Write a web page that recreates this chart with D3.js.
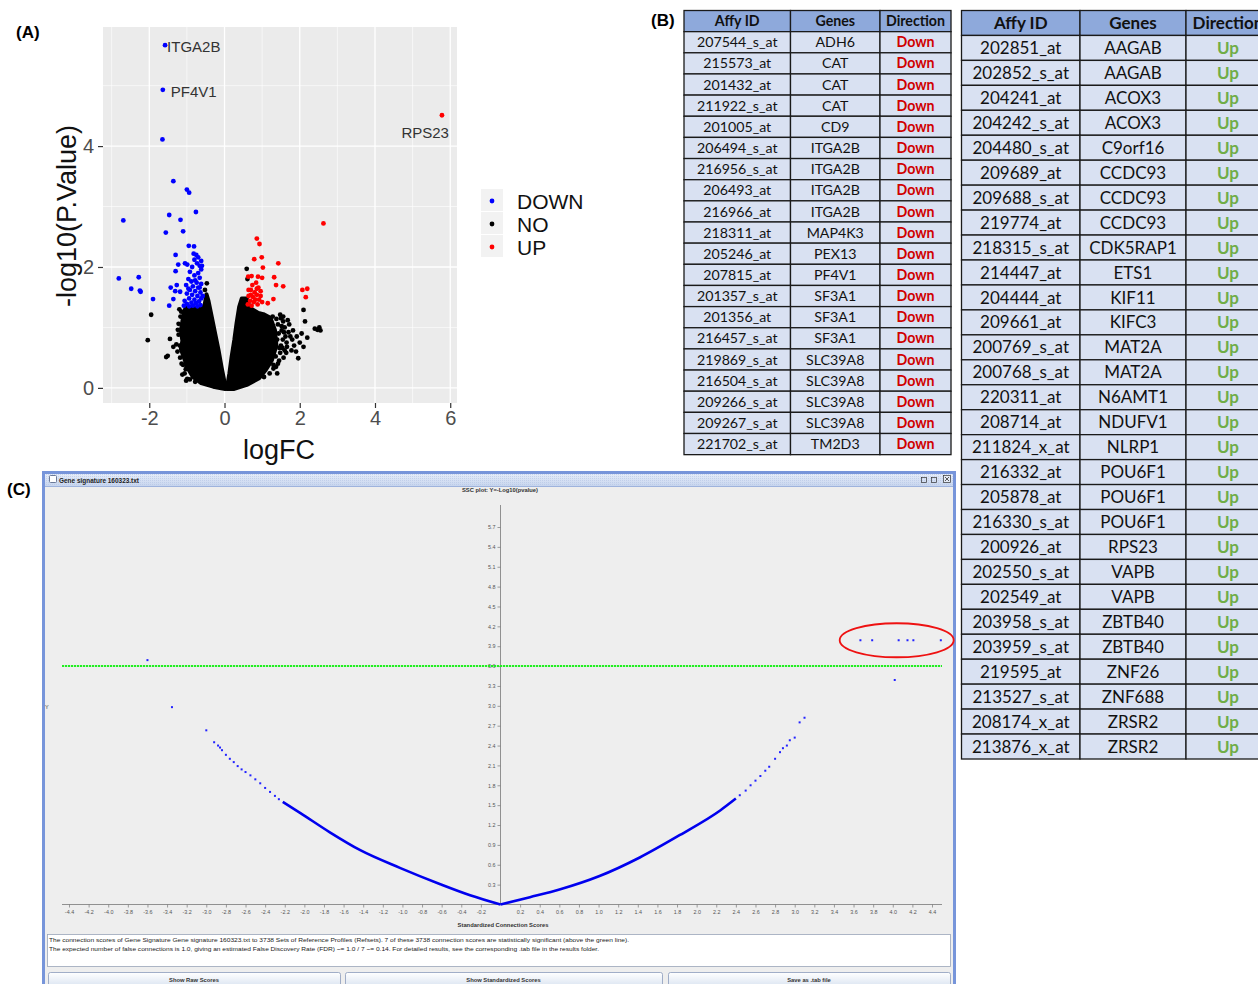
<!DOCTYPE html>
<html><head><meta charset="utf-8">
<script src="https://cdn.jsdelivr.net/npm/d3@7"></script>
<style>body{margin:0;background:#fff;overflow:hidden}svg{display:block}</style>
</head><body>
<svg id="c" width="1258" height="984"></svg>
<script>
// ================= DATA =================
// Panel A – volcano plot  [logFC, -log10(P.Value)]
const volcanoDown = [[-1.58,5.67],[-1.64,4.93],[-1.65,4.11],[-1.36,3.42],[-1.0,3.28],[-0.94,3.23],[-0.76,2.91],[-1.47,2.86],[-1.17,2.78],[-2.69,2.77],[-1.56,2.57],[-1.10,2.59],[-0.95,2.35],[-0.81,2.34],[-1.30,2.20],[-1.23,2.04],[-1.30,1.93],[-1.05,2.06],[-0.99,2.04],[-2.81,1.81],[-2.28,1.83],[-2.48,1.64],[-2.25,1.61],[-2.23,1.59],[-1.90,1.47],[-1.47,1.36],[-1.36,1.47],[-1.43,1.66],[-1.27,1.70],[-1.31,1.60],[-1.18,1.59],
 [-0.75,2.20],[-0.70,2.16],[-0.80,2.12],[-0.73,2.06],[-0.66,2.02],[-0.86,2.00],[-0.62,1.96],[-0.92,1.92],[-0.70,1.90],[-0.80,1.86],[-0.66,1.82],[-0.96,1.80],[-0.88,1.76],[-0.74,1.74],[-0.62,1.72],[-1.02,1.70],[-0.84,1.68],[-0.70,1.66],[-0.92,1.62],[-0.78,1.60],[-0.64,1.58],[-1.00,1.56],[-0.86,1.54],[-0.72,1.52],[-0.62,1.48],[-0.94,1.48],[-0.80,1.46],[-1.06,1.44],[-0.68,1.43],[-0.88,1.41],[-0.76,1.40],[-1.00,1.39],[-0.64,1.37],[-0.84,1.36],[-0.94,1.35],[-0.72,1.35],[-1.08,1.36],[-0.60,2.02],[-0.62,2.10],[-0.82,2.22],[-0.96,1.64],[-0.66,1.66],[-0.78,1.78],[-0.58,1.52]];
const volcanoUp = [[5.78,4.51],[2.63,2.72],[0.86,2.47],[0.93,2.38],[0.99,2.16],[0.79,2.13],[1.02,1.99],[1.43,2.06],[0.63,1.84],[0.72,1.85],[0.89,1.84],[1.00,1.82],[1.32,1.83],[1.37,1.70],[1.56,1.68],[2.07,1.62],[2.20,1.64],[2.16,1.50],[1.30,1.47],[1.15,1.40],
 [0.74,1.70],[0.84,1.74],[0.90,1.66],[0.70,1.62],[0.80,1.58],[0.96,1.60],[0.64,1.52],[0.76,1.50],[0.86,1.54],[0.92,1.46],[0.68,1.44],[0.78,1.42],[0.88,1.38],[0.62,1.38],[0.72,1.36],[1.00,1.42],[0.82,1.46],[0.96,1.52],[0.70,1.54],[0.86,1.64],[0.64,1.62]];
// dense "NO" cloud outlines (left and right lobes)
const volcanoNoLeftLobe = [[0.02,-0.02],[-0.30,0.02],[-0.62,0.08],[-0.84,0.18],[-0.98,0.33],[-1.08,0.50],[-1.16,0.64],[-1.12,0.78],[-1.16,0.95],[-1.12,1.10],[-1.08,1.25],[-1.03,1.33],[-0.65,1.32],[-0.53,1.36],[-0.48,1.55],[-0.43,1.45],[-0.34,1.18],[-0.25,0.90],[-0.16,0.63],[-0.08,0.35],[-0.01,0.13]];
const volcanoNoRightLobe = [[0.06,-0.02],[0.13,0.24],[0.19,0.52],[0.26,0.79],[0.32,1.07],[0.39,1.34],[0.46,1.48],[0.59,1.48],[0.68,1.32],[0.90,1.24],[1.03,1.22],[1.22,1.16],[1.34,0.96],[1.38,0.70],[1.26,0.46],[1.10,0.30],[0.92,0.16],[0.59,0.05],[0.24,-0.02]];
const volcanoNoScatter = [[-1.95,1.21],[-2.04,0.79],[-1.45,0.81],[-1.55,0.51],[-1.51,0.53],[-1.36,0.68],[-1.18,0.50],[-1.03,0.31],[-0.99,0.15],[-1.25,0.60],[-1.28,0.72],[-1.14,0.40],[-0.47,1.73],[-0.52,1.62],[0.59,1.97],[0.61,1.80],
 [-1.20,1.30],[-1.17,1.18],[-1.22,1.06],[-1.22,0.88],[-1.19,0.70],[-1.10,0.38],[-1.06,0.24],[-0.92,0.14],[-0.78,0.10],[-1.02,0.12],[-1.12,0.22],[-0.88,0.30],[-1.24,0.96],[-1.15,1.26],
 [1.50,1.15],[1.56,1.10],[1.60,1.00],[1.52,0.95],[1.62,0.85],[1.55,0.80],[1.65,0.75],[1.50,0.70],[1.60,0.62],[1.48,0.58],[1.57,0.50],[1.45,0.45],[1.66,0.68],[1.70,0.92],[1.75,0.85],[1.80,0.80],[1.85,0.70],[1.90,0.60],[1.78,0.62],[1.82,0.95],[1.72,1.05],[1.68,1.12],[1.48,1.21],[1.56,1.18],
 [1.42,1.05],[1.44,0.90],[1.40,0.80],[1.46,0.66],[1.36,0.52],[1.42,0.40],[1.30,0.32],[1.20,0.24],[1.05,0.18],[1.28,1.18],[1.38,1.14],[1.52,1.02],[1.58,0.92],[1.64,0.58],[1.54,0.66],
 [1.96,0.49],[2.10,0.68],[2.20,0.83],[2.14,1.10],[2.10,1.29],[2.40,0.98],[2.47,0.96],[2.52,1.00],[2.55,0.95],[2.00,0.75],[2.05,0.90],[1.92,0.85],[1.37,0.35],[1.40,0.24],[1.30,0.38]];
const volcanoLabels = [{gene:"ITGA2B",fc:-1.58,p:5.67,anchor:"start"},{gene:"PF4V1",fc:-1.64,p:4.93,anchor:"start"},{gene:"RPS23",fc:5.78,p:4.51,anchor:"end"}];
const volcanoXTicks = [-2,0,2,4,6], volcanoXMinor = [-3,-1,1,3,5];
const volcanoYTicks = [0,2,4], volcanoYMinor = [1,3,5];
const legendCats = ["DOWN","NO","UP"], legendColors = ["#0000FF","#000000","#FF0000"];

// Panel B – tables
const tableHeader = ["Affy ID","Genes","Direction"];
const downAffy = ["207544_s_at","215573_at","201432_at","211922_s_at","201005_at","206494_s_at","216956_s_at","206493_at","216966_at","218311_at","205246_at","207815_at","201357_s_at","201356_at","216457_s_at","219869_s_at","216504_s_at","209266_s_at","209267_s_at","221702_s_at"];
const downGenes = ["ADH6","CAT","CAT","CAT","CD9","ITGA2B","ITGA2B","ITGA2B","ITGA2B","MAP4K3","PEX13","PF4V1","SF3A1","SF3A1","SF3A1","SLC39A8","SLC39A8","SLC39A8","SLC39A8","TM2D3"];
const upAffy = ["202851_at","202852_s_at","204241_at","204242_s_at","204480_s_at","209689_at","209688_s_at","219774_at","218315_s_at","214447_at","204444_at","209661_at","200769_s_at","200768_s_at","220311_at","208714_at","211824_x_at","216332_at","205878_at","216330_s_at","200926_at","202550_s_at","202549_at","203958_s_at","203959_s_at","219595_at","213527_s_at","208174_x_at","213876_x_at"];
const upGenes = ["AAGAB","AAGAB","ACOX3","ACOX3","C9orf16","CCDC93","CCDC93","CCDC93","CDK5RAP1","ETS1","KIF11","KIFC3","MAT2A","MAT2A","N6AMT1","NDUFV1","NLRP1","POU6F1","POU6F1","POU6F1","RPS23","VAPB","VAPB","ZBTB40","ZBTB40","ZNF26","ZNF688","ZRSR2","ZRSR2"];

// Panel C – SSC plot [standardized connection score, -log10(pvalue)]
const sscLeftArm = [[-2.22,1.55],[-2.04,1.38],[-1.74,1.09],[-1.43,0.82],[-1.02,0.55],[-0.62,0.31],[-0.31,0.14],[0,0]];
const sscRightArm = [[0,0],[0.30,0.11],[0.61,0.23],[1.01,0.43],[1.42,0.71],[1.83,1.05],[2.24,1.42],[2.40,1.60]];
const sscScatter = [[-3.0,2.63],[-3.35,2.98],[-2.92,2.45],[-2.88,2.40],[-2.86,2.37],[-2.84,2.33],[-2.80,2.26],[-2.76,2.20],[-2.72,2.15],[-2.68,2.09],[-2.64,2.04],[-2.60,2.00],[-2.55,1.95],[-2.50,1.89],[-2.45,1.83],[-2.40,1.76],[-2.35,1.70],[-2.30,1.64],[-2.26,1.59],
 [2.44,1.65],[2.50,1.72],[2.55,1.80],[2.60,1.87],[2.65,1.94],[2.70,2.02],[2.74,2.08],[2.80,2.20],[2.85,2.30],[2.88,2.36],[2.92,2.40],[2.95,2.48],[3.0,2.52],[3.05,2.75],[3.10,2.82],[4.02,3.39]];
const sscSignificant = [[-3.6,3.69],[3.67,3.99],[3.79,3.99],[4.06,3.99],[4.15,3.99],[4.21,3.99],[4.49,3.99]];
const sscThreshold = 3.6;
const sscCircle = {score:4.04, value:3.99};
const sscXTicks = [-4.4,-4.2,-4.0,-3.8,-3.6,-3.4,-3.2,-3.0,-2.8,-2.6,-2.4,-2.2,-2.0,-1.8,-1.6,-1.4,-1.2,-1.0,-0.8,-0.6,-0.4,-0.2,0.2,0.4,0.6,0.8,1.0,1.2,1.4,1.6,1.8,2.0,2.2,2.4,2.6,2.8,3.0,3.2,3.4,3.6,3.8,4.0,4.2,4.4];
const sscYTicks = [0.3,0.6,0.9,1.2,1.5,1.8,2.1,2.4,2.7,3.0,3.3,3.6,3.9,4.2,4.5,4.8,5.1,5.4,5.7];
const sscMessage = ["The connection scores of Gene Signature Gene signature 160323.txt to 3738 Sets of Reference Profiles (Refsets). 7 of these 3738 connection scores are statistically significant (above the green line).",
 "The expected number of false connections is 1.0, giving an estimated False Discovery Rate (FDR) ~= 1.0 / 7 ~= 0.14. For detailed results, see the corresponding .tab file in the results folder."];
const sscButtons = ["Show Raw Scores","Show Standardized Scores","Save as .tab file"];

// ================= DRAW =================
const svg = d3.select("#c");
const SANS = "'Liberation Sans', Arial, sans-serif";
const CAL = "Lato, 'Open Sans', sans-serif";

// ---------- Panel A ----------
const A = svg.append("g");
svg.append("text").attr("x",16).attr("y",38).attr("font-family",SANS).attr("font-weight","bold").attr("font-size",17).text("(A)");
const ax = d3.scaleLinear().domain([-3.23,6.18]).range([103,457]);
const ay = d3.scaleLinear().domain([-0.25,5.97]).range([403,27]);
A.append("rect").attr("x",ax(-3.23)).attr("y",ay(5.97)).attr("width",ax(6.18)-ax(-3.23)).attr("height",ay(-0.25)-ay(5.97)).attr("fill","#EBEBEB");
A.selectAll(".vmx").data(volcanoXMinor).join("line").attr("x1",d=>ax(d)).attr("x2",d=>ax(d)).attr("y1",27).attr("y2",403).attr("stroke","#fff").attr("stroke-width",0.6);
A.selectAll(".vmy").data(volcanoYMinor).join("line").attr("y1",d=>ay(d)).attr("y2",d=>ay(d)).attr("x1",103).attr("x2",457).attr("stroke","#fff").attr("stroke-width",0.6);
A.selectAll(".vjx").data(volcanoXTicks).join("line").attr("x1",d=>ax(d)).attr("x2",d=>ax(d)).attr("y1",27).attr("y2",403).attr("stroke","#fff").attr("stroke-width",1.3);
A.selectAll(".vjy").data(volcanoYTicks).join("line").attr("y1",d=>ay(d)).attr("y2",d=>ay(d)).attr("x1",103).attr("x2",457).attr("stroke","#fff").attr("stroke-width",1.3);

const lobe = d3.line().x(d=>ax(d[0])).y(d=>ay(d[1])).curve(d3.curveLinearClosed);
[volcanoNoLeftLobe, volcanoNoRightLobe].forEach(l=>{
  A.append("path").attr("d",lobe(l)).attr("fill","#000").attr("stroke","#000").attr("stroke-width",4).attr("stroke-linejoin","round");
});
A.selectAll(".no").data(volcanoNoScatter).join("circle").attr("cx",d=>ax(d[0])).attr("cy",d=>ay(d[1])).attr("r",2.4).attr("fill","#000");
A.selectAll(".dn").data(volcanoDown).join("circle").attr("cx",d=>ax(d[0])).attr("cy",d=>ay(d[1])).attr("r",2.4).attr("fill","#0000FF");
A.selectAll(".up").data(volcanoUp).join("circle").attr("cx",d=>ax(d[0])).attr("cy",d=>ay(d[1])).attr("r",2.4).attr("fill","#FF0000");

A.selectAll(".lab").data(volcanoLabels).join("text")
  .attr("x",d=>ax(d.fc)+(d.anchor==="start"?(d.gene==="ITGA2B"?2:8):7))
  .attr("y",d=>ay(d.p)+(d.anchor==="start"?7:23))
  .attr("text-anchor",d=>d.anchor).attr("font-family",SANS).attr("font-size",15).attr("fill","#333").text(d=>d.gene);

const yAx = A.append("g").attr("transform","translate(103,0)").call(d3.axisLeft(ay).tickValues(volcanoYTicks).tickSize(5).tickPadding(4).tickFormat(d=>String(d)));
const xAx = A.append("g").attr("transform","translate(0,403)").call(d3.axisBottom(ax).tickValues(volcanoXTicks).tickSize(5).tickPadding(3).tickFormat(d=>String(d)));
[yAx,xAx].forEach(g=>{g.select(".domain").remove();g.selectAll("line").attr("stroke","#333").attr("stroke-width",1.2);
  g.selectAll("text").attr("font-family",SANS).attr("font-size",20).attr("fill","#4D4D4D");});
A.append("text").attr("x",279).attr("y",459).attr("text-anchor","middle").attr("font-family",SANS).attr("font-size",27).attr("fill","#111").text("logFC");
A.append("text").attr("transform","translate(76,216) rotate(-90)").attr("text-anchor","middle").attr("font-family",SANS).attr("font-size",27).attr("fill","#111").text("-log10(P.Value)");
const lg = A.selectAll(".lg").data(legendCats).join("g").attr("transform",(d,i)=>`translate(481,${189+i*23})`);
lg.append("rect").attr("width",22).attr("height",22).attr("fill","#F2F2F2");
lg.append("circle").attr("cx",11).attr("cy",12).attr("r",2.4).attr("fill",(d,i)=>legendColors[i]);
lg.append("text").attr("x",36).attr("y",20).attr("font-family",SANS).attr("font-size",21).attr("fill","#111").text(d=>d);

// ---------- Panel B ----------
svg.append("text").attr("x",651).attr("y",26).attr("font-family",SANS).attr("font-weight","bold").attr("font-size",17).text("(B)");
function drawTable(x0,y0,cols,rowH,fs,affy,genes,dir,dirColor){
  const g = svg.append("g");
  const rows = [tableHeader].concat(affy.map((a,i)=>[a,genes[i],dir]));
  const rg = g.selectAll("g").data(rows).join("g").attr("transform",(d,i)=>`translate(0,${y0+i*rowH})`);
  rg.each(function(r,ri){
    const s = d3.select(this);
    for(let c=0;c<3;c++){
      s.append("rect").attr("x",cols[c]).attr("y",0).attr("width",cols[c+1]-cols[c]).attr("height",rowH)
        .attr("fill",ri===0?"#8EA9DB":"#D9E1F2").attr("stroke","#1a1a1a").attr("stroke-width",1.3);
      s.append("text").attr("x",(cols[c]+cols[c+1])/2).attr("y",rowH/2).attr("dy","0.36em").attr("text-anchor","middle")
        .attr("font-family",CAL).attr("font-size",fs)
        .attr("font-weight",(ri===0||c===2)?"bold":"normal")
        .attr("fill",(ri>0&&c===2)?dirColor:"#111").text(r[c]);
    }
  });
}
drawTable(684,10.5,[684,790.5,880,951],21.15,14.2,downAffy,downGenes,"Down","#D00000");
drawTable(961.5,10.5,[961.5,1080,1186,1270],24.95,17,upAffy,upGenes,"Up","#70AD47");

// ---------- Panel C ----------
svg.append("text").attr("x",7).attr("y",495).attr("font-family",SANS).attr("font-weight","bold").attr("font-size",17).text("(C)");
const defs = svg.append("defs");
const gr = defs.append("linearGradient").attr("id","tb").attr("x1",0).attr("y1",0).attr("x2",0).attr("y2",1);
gr.append("stop").attr("offset","0").attr("stop-color","#E6EDF9");
gr.append("stop").attr("offset","1").attr("stop-color","#C7D5EE");
const pat = defs.append("pattern").attr("id","dots").attr("width",2).attr("height",2).attr("patternUnits","userSpaceOnUse");
pat.append("rect").attr("width",1).attr("height",1).attr("fill","#B4C4E4");
const bg = defs.append("linearGradient").attr("id","btn").attr("x1",0).attr("y1",0).attr("x2",0).attr("y2",1);
bg.append("stop").attr("offset","0").attr("stop-color","#FFFFFF");
bg.append("stop").attr("offset","1").attr("stop-color","#D5E0EF");

const C = svg.append("g");
C.append("rect").attr("x",43.5).attr("y",472.5).attr("width",911).attr("height",520).attr("fill","#EEEEEE").attr("stroke","#7795DA").attr("stroke-width",3);
C.append("rect").attr("x",45).attr("y",474).attr("width",908).attr("height",12).attr("fill","url(#tb)");
C.append("rect").attr("x",45).attr("y",474).attr("width",908).attr("height",12).attr("fill","url(#dots)").attr("opacity",0.6);
C.append("line").attr("x1",45).attr("x2",953).attr("y1",486.5).attr("y2",486.5).attr("stroke","#9EB3DD");
C.append("rect").attr("x",49.5).attr("y",475.5).attr("width",7).attr("height",7).attr("fill","#fff").attr("stroke","#6b7a99").attr("rx",1);
C.append("text").attr("x",59).attr("y",482.5).attr("font-family",SANS).attr("font-weight","bold").attr("font-size",6.5).attr("fill","#222").attr("textLength",80).attr("lengthAdjust","spacingAndGlyphs").text("Gene signature 160323.txt");
[921,931].forEach(x=>{
  C.append("rect").attr("x",x+0.5).attr("y",477.5).attr("width",5).attr("height",5).attr("fill","none").attr("stroke","#333").attr("stroke-width",0.7);
});
C.append("rect").attr("x",943.5).attr("y",475.5).attr("width",7).attr("height",7).attr("fill","#E4EAF5").attr("stroke","#333").attr("stroke-width",0.7);
C.append("path").attr("d","M945,477L949,481M949,477L945,481").attr("stroke","#333").attr("stroke-width",0.8);

C.append("text").attr("x",500).attr("y",492).attr("text-anchor","middle").attr("font-family",SANS).attr("font-weight","bold").attr("font-size",5.8).attr("fill","#333").text("SSC plot: Y=-Log10(pvalue)");

const cx = d3.scaleLinear().domain([-4.4,4.4]).range([69,932]);
const cy = d3.scaleLinear().domain([0,5.7]).range([904.5,527]);
const cxAxis = C.append("g").attr("transform",`translate(0,${cy(0)})`).call(d3.axisBottom(cx).tickValues(sscXTicks).tickSize(3).tickPadding(3).tickFormat(d=>d.toFixed(1)));
const cyAxis = C.append("g").attr("transform",`translate(${cx(0)},0)`).call(d3.axisLeft(cy).tickValues(sscYTicks).tickSize(3).tickPadding(2).tickFormat(d=>d.toFixed(1)));
[cxAxis,cyAxis].forEach(g=>{g.select(".domain").remove();g.selectAll("line").attr("stroke","#777").attr("stroke-width",0.7);
  g.selectAll("text").attr("font-family",SANS).attr("font-size",5.4).attr("fill","#555");});
C.append("line").attr("x1",62).attr("x2",942).attr("y1",cy(0)).attr("y2",cy(0)).attr("stroke","#777").attr("stroke-width",0.8);
C.append("line").attr("x1",cx(0)).attr("x2",cx(0)).attr("y1",505).attr("y2",cy(0)).attr("stroke","#777").attr("stroke-width",0.8);
C.append("text").attr("x",503).attr("y",927).attr("text-anchor","middle").attr("font-family",SANS).attr("font-weight","bold").attr("font-size",5.8).attr("fill","#333").text("Standardized Connection Scores");
C.append("text").attr("x",45).attr("y",709).attr("font-family",SANS).attr("font-size",5.5).attr("fill","#444").text("Y");

C.append("line").attr("x1",62).attr("x2",942).attr("y1",cy(sscThreshold)).attr("y2",cy(sscThreshold)).attr("stroke","#22EE22").attr("stroke-width",2).attr("stroke-dasharray","2.2,0.8");

const arm = d3.line().x(d=>cx(d[0])).y(d=>cy(d[1])).curve(d3.curveMonotoneX);
C.append("path").attr("d",arm(sscLeftArm)).attr("fill","none").attr("stroke","#0000EE").attr("stroke-width",2.6);
C.append("path").attr("d",arm(sscRightArm)).attr("fill","none").attr("stroke","#0000EE").attr("stroke-width",2.6);
C.selectAll(".sc").data(sscScatter.concat(sscSignificant)).join("rect").attr("x",d=>cx(d[0])-1).attr("y",d=>cy(d[1])-1).attr("width",2).attr("height",2).attr("fill","#2222FF");
C.append("ellipse").attr("cx",cx(sscCircle.score)).attr("cy",cy(sscCircle.value)).attr("rx",57).attr("ry",17).attr("fill","none").attr("stroke","#EE1111").attr("stroke-width",1.8);

C.append("rect").attr("x",47.5).attr("y",934.5).attr("width",903).attr("height",32).attr("fill","#fff").attr("stroke","#9AA5B8").attr("stroke-width",0.8);
C.selectAll(".msg").data(sscMessage).join("text").attr("x",49).attr("y",(d,i)=>942+i*9).attr("font-family",SANS).attr("font-size",6.2).attr("fill","#222")
  .attr("textLength",(d,i)=>i===0?580:550).attr("lengthAdjust","spacingAndGlyphs").text(d=>d);
const btnX = [[48,340],[345,662],[668,950]];
const bt = C.selectAll(".bt").data(sscButtons).join("g");
bt.append("rect").attr("x",(d,i)=>btnX[i][0]+0.5).attr("y",972.5).attr("width",(d,i)=>btnX[i][1]-btnX[i][0]).attr("height",16).attr("rx",2).attr("fill","url(#btn)").attr("stroke","#8A9BBB").attr("stroke-width",0.8);
bt.append("text").attr("x",(d,i)=>(btnX[i][0]+btnX[i][1])/2).attr("y",982).attr("text-anchor","middle").attr("font-family",SANS).attr("font-weight","bold").attr("font-size",5.8).attr("fill","#333").text(d=>d);
</script>
</body></html>
